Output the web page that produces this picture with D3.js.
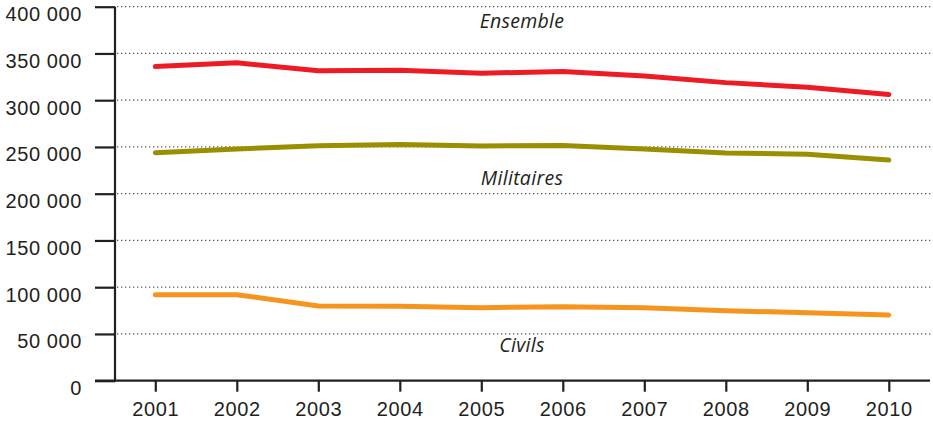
<!DOCTYPE html>
<html><head><meta charset="utf-8">
<script src="https://cdn.jsdelivr.net/npm/d3@7"></script>
<style>
html,body{margin:0;padding:0;background:#fff;}
svg{display:block;font-family:"Open Sans",sans-serif;}
</style></head>
<body><svg id="c" width="933" height="428"></svg>
<script>
const years = [2001,2002,2003,2004,2005,2006,2007,2008,2009,2010];
const ensemble = [336000,340000,331500,332000,328800,330800,325900,318800,313800,306000];
const militaires = [243800,247800,251300,252700,251000,251500,247800,243600,242300,236000];
const civils = [92000,92000,79900,79600,78100,79100,78100,74900,72600,70300];
const yTicks = [0,50000,100000,150000,200000,250000,300000,350000,400000];
const seriesNames = ["Ensemble","Militaires","Civils"];
const seriesColors = ["#ed1c24","#9a8f00","#f7941d"];
const labelValues = [384000,216800,38200];

const svg = d3.select("#c");
const x = d3.scalePoint().domain(years).range([155.3,888.8]);
const y = d3.scaleLinear().domain([0,400000]).range([380.7,6.7]);
const ink = "#231f20";
const fmt = v => v===0 ? "0" : d3.format(",")(v).replace(/,/g," ");

// gridlines
svg.append("g").selectAll("line").data(yTicks.filter(d=>d>0)).join("line")
  .attr("x1",117).attr("x2",933)
  .attr("y1",d=>y(d)).attr("y2",d=>y(d))
  .attr("stroke","#555").attr("stroke-width",1.3).attr("stroke-dasharray","1.3 2.7");

// y axis
const ya = svg.append("g").attr("transform","translate(115,0)")
  .call(d3.axisLeft(y).tickValues(yTicks).tickSize(20).tickPadding(13).tickFormat(fmt));
ya.select(".domain").remove();
ya.selectAll(".tick line").attr("stroke",ink).attr("stroke-width",2.2);
ya.selectAll(".tick text").attr("fill",ink).attr("font-size",20)
  .attr("letter-spacing","0.6px").attr("dy","0.7em");
svg.append("line").attr("x1",115).attr("x2",115).attr("y1",y(400000)).attr("y2",y(0)+1)
  .attr("stroke",ink).attr("stroke-width",2.2);

// x axis
const xa = svg.append("g").attr("transform",`translate(0,${y(0)})`)
  .call(d3.axisBottom(x).tickSize(11).tickPadding(10).tickFormat(d=>String(d)));
xa.select(".domain").remove();
xa.selectAll(".tick line").attr("stroke",ink).attr("stroke-width",2.2);
xa.selectAll(".tick text").attr("fill",ink).attr("font-size",20).attr("letter-spacing","0.6px");
svg.append("line").attr("x1",95).attr("x2",930).attr("y1",y(0)).attr("y2",y(0))
  .attr("stroke",ink).attr("stroke-width",2.2);

// lines
const line = d3.line().x((d,i)=>x(years[i])).y(d=>y(d));
[ensemble,militaires,civils].forEach((s,k)=>{
  svg.append("path").datum(s).attr("d",line).attr("fill","none")
    .attr("stroke",seriesColors[k]).attr("stroke-width",5)
    .attr("stroke-linecap","round").attr("stroke-linejoin","round");
});

// labels
svg.append("g").selectAll("text").data(seriesNames).join("text")
  .attr("x",522).attr("y",(d,i)=>y(labelValues[i]))
  .attr("dy","0.35em").attr("text-anchor","middle")
  .attr("font-style","italic").attr("font-size",19.5).attr("letter-spacing","0.3px").attr("fill",ink)
  .text(d=>d);
</script></body></html>
